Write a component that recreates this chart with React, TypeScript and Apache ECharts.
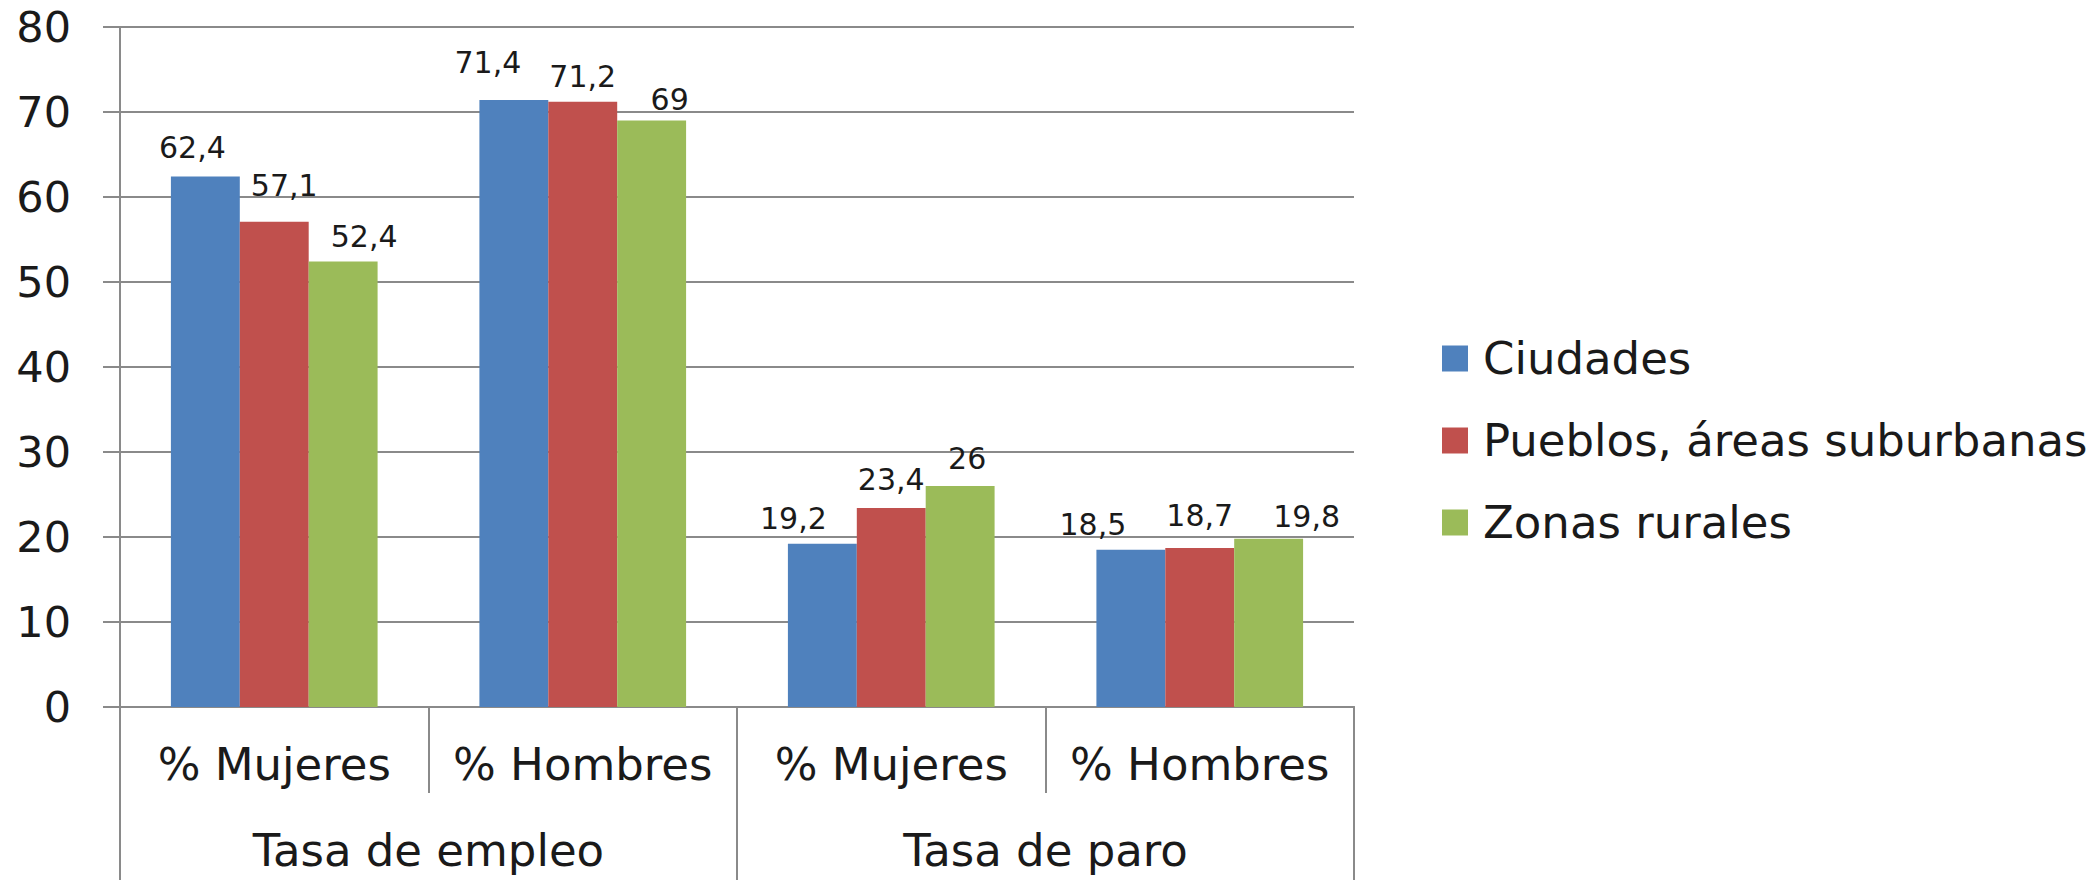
import React, { useEffect, useRef } from "react";
import * as echarts from "echarts";

const groups = ["Tasa de empleo", "Tasa de paro"];
const subCategories = ["% Mujeres", "% Hombres", "% Mujeres", "% Hombres"];
const seriesNames = ["Ciudades", "Pueblos, áreas suburbanas", "Zonas rurales"];
const ciudades = [62.4, 71.4, 19.2, 18.5];
const pueblos = [57.1, 71.2, 23.4, 18.7];
const zonasRurales = [52.4, 69, 26, 19.8];
const colors = ["#4F81BD", "#C0504D", "#9BBB59"];
// label nudges (dx, dy) imitating the original label placement
const labelNudges = [
  [[-13, -4], [-26, -13], [-29, 0], [-38, 0]],
  [[10, -11], [0, 0], [0, -4], [0, -8]],
  [[21, 0], [18, 4], [7, -3], [38, 3]],
];

const FONT = "'DejaVu Sans', sans-serif";
const GRAY = "#8a8a8a";
const TEXT = "#1a1a1a";

export default function App() {
  const ref = useRef<HTMLDivElement>(null);
  useEffect(() => {
    document.body.style.margin = "0";
    if (!ref.current) return;
    const chart = echarts.init(ref.current, null, { renderer: "svg" });
    const values = [ciudades, pueblos, zonasRurales];
    const fmt = (v: number) => String(v).replace(".", ",");
    chart.setOption({
      animation: false,
      backgroundColor: "#ffffff",
      textStyle: { fontFamily: FONT },
      grid: { left: 120, right: 740, top: 27, bottom: 173, containLabel: false },
      legend: {
        orient: "vertical",
        left: 1442,
        top: 336,
        padding: 0,
        itemGap: 37,
        itemWidth: 26,
        itemHeight: 26,
        icon: "rect",
        data: seriesNames,
        textStyle: {
          fontFamily: FONT,
          fontSize: 45,
          lineHeight: 45,
          color: TEXT,
          padding: [0, 0, 0, 10],
        },
      },
      xAxis: [
        {
          type: "category",
          position: "bottom",
          data: subCategories,
          axisLine: { show: true, lineStyle: { color: GRAY, width: 2 } },
          axisTick: {
            show: true,
            alignWithLabel: false,
            interval: 0,
            length: 86,
            lineStyle: { color: GRAY, width: 2 },
          },
          axisLabel: {
            interval: 0,
            margin: 35,
            fontFamily: FONT,
            fontSize: 45,
            color: TEXT,
          },
          splitLine: { show: false },
        },
        {
          type: "category",
          position: "bottom",
          data: groups,
          axisLine: { show: true, lineStyle: { color: GRAY, width: 2 } },
          axisTick: {
            show: true,
            alignWithLabel: false,
            interval: 0,
            length: 175,
            lineStyle: { color: GRAY, width: 2 },
          },
          axisLabel: {
            interval: 0,
            margin: 121,
            fontFamily: FONT,
            fontSize: 45,
            color: TEXT,
          },
          splitLine: { show: false },
        },
      ],
      yAxis: {
        type: "value",
        min: 0,
        max: 80,
        interval: 10,
        axisLine: { show: true, lineStyle: { color: GRAY, width: 2 } },
        axisTick: { show: true, length: 17, lineStyle: { color: GRAY, width: 2 } },
        axisLabel: { margin: 49, fontFamily: FONT, fontSize: 43, color: TEXT },
        splitLine: { show: true, lineStyle: { color: GRAY, width: 2 } },
      },
      series: seriesNames.map((name, si) => ({
        name,
        type: "bar",
        xAxisIndex: 0,
        barGap: "0%",
        barCategoryGap: "33%",
        itemStyle: { color: colors[si] },
        label: {
          show: true,
          position: "top",
          distance: 10,
          fontFamily: FONT,
          fontSize: 30,
          color: TEXT,
          formatter: (p: any) => fmt(p.value),
        },
        data: values[si].map((v, i) => ({
          value: v,
          label: { offset: labelNudges[si][i] },
        })),
      })),
    });
    return () => chart.dispose();
  }, []);
  return <div ref={ref} style={{ width: 2094, height: 880 }} />;
}
